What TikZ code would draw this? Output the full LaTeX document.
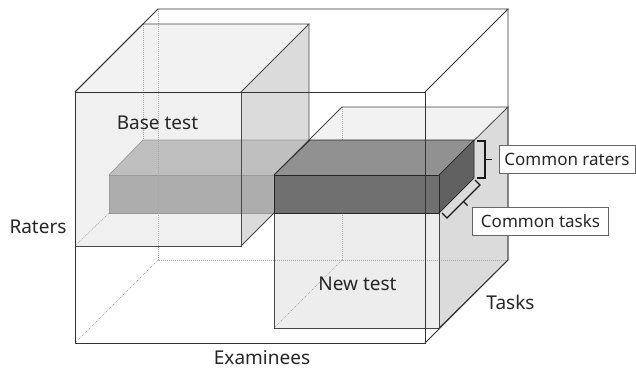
\documentclass[tikz,border=0pt]{standalone}
\usepackage{fontspec}
\setmainfont{Noto Sans}
\usetikzlibrary{calc}
\begin{document}
\begin{tikzpicture}[x=1pt,y=1pt,
  edge/.style={draw=black!72,line width=0.8pt},
  bigedge/.style={draw=black!80,line width=0.8pt},
  dots/.style={draw=black!35,dash pattern=on 1pt off 1pt,line width=0.6pt},
  slabedge/.style={draw=black!40,line width=0.7pt},
  darkedge/.style={draw=black!85,line width=0.7pt,line join=round},
  bracket/.style={draw=black!90,line width=1.1pt},
  lbl/.style={font=\fontsize{19}{22}\selectfont,text=black!85,anchor=base,inner sep=0pt},
  boxlbl/.style={draw=black!60,fill=white,line width=0.7pt,font=\fontsize{17}{20}\selectfont,text=black!85,inner sep=0pt,minimum width=136pt,minimum height=28pt},
]
\useasboundingbox (0,0) rectangle (636,370);
\fill[white] (0,0) rectangle (636,370);
% ---------- coordinates
% big box
\coordinate (A1) at (75,27);   \coordinate (A2) at (425,27);
\coordinate (A3) at (425,278); \coordinate (A4) at (75,278);
\coordinate (B1) at (158,110); \coordinate (B2) at (508,110);
\coordinate (B3) at (508,361); \coordinate (B4) at (158,361);
% base test box
\coordinate (P1) at (75,124);  \coordinate (P2) at (241,124);
\coordinate (P3) at (241,278); \coordinate (P4) at (75,278);
\coordinate (Q1) at (143,192); \coordinate (Q2) at (309,192);
\coordinate (Q3) at (309,346); \coordinate (Q4) at (143,346);
% new test box
\coordinate (N1) at (274,42);  \coordinate (N2) at (439,42);
\coordinate (N3) at (439,195); \coordinate (N4) at (274,195);
\coordinate (M1) at (342,110); \coordinate (M2) at (508,110);
\coordinate (M3) at (508,263); \coordinate (M4) at (342,263);
% slab
\coordinate (S1) at (109,157); \coordinate (S2) at (274,157);
\coordinate (S3) at (274,195); \coordinate (S4) at (109,195);
\coordinate (T3) at (310,230); \coordinate (T4) at (143,230);
% dark box
\coordinate (D1) at (274,157); \coordinate (D2) at (439,157);
\coordinate (D3) at (439,195); \coordinate (D4) at (274,195);
\coordinate (E2) at (474,192); \coordinate (E3) at (474,230); \coordinate (E4) at (310,230);
% ---------- face fills
\fill[black!6] (P1) -- (P2) -- (P3) -- (P4) -- cycle;
\fill[black!5] (P4) -- (Q4) -- (Q3) -- (P3) -- cycle;
\fill[black!14] (P2) -- (P3) -- (Q3) -- (Q2) -- cycle;
\fill[black!7] (N1) -- (N2) -- (N3) -- (N4) -- cycle;
\fill[black!5] (N4) -- (M4) -- (M3) -- (N3) -- cycle;
\fill[black!14] (N2) -- (N3) -- (M3) -- (M2) -- cycle;
% ---------- hidden lines
\draw[dots] (M4) -- (M1) -- (M2);
\draw[dots] (N1) -- (M1);
% ---------- light slab
\fill[black!25] (S4) -- (T4) -- (T3) -- (S3) -- cycle;
\fill[black!32] (S1) -- (S2) -- (S3) -- (S4) -- cycle;
\draw[slabedge] (S2) -- (S1) -- (S4) -- (S3);
\draw[slabedge] (S4) -- (T4) -- (T3);
% hidden lines over slab
\draw[dots] (B4) -- (B1) -- (B2);
\draw[dots] (A1) -- (B1);
\draw[dots] (Q4) -- (T4);
\draw[dots] (P1) -- (S1);
% ---------- base test edges
\draw[edge] (P1) -- (P2) -- (P3) -- (P4) -- cycle;
\draw[edge] (P4) -- (Q4) -- (Q3) -- (P3);
\draw[edge] (Q3) -- (Q2) -- (P2);
% ---------- new test edges
\draw[edge] (N1) -- (N2) -- (N3) -- (N4) -- cycle;
\draw[edge] (N4) -- (M4) -- (M3) -- (N3);
\draw[edge] (M3) -- (M2) -- (N2);
% ---------- dark box
\fill[black!43] (D4) -- (E4) -- (E3) -- (D3) -- cycle;
\fill[black!56] (D1) -- (D2) -- (D3) -- (D4) -- cycle;
\fill[black!62] (D2) -- (E2) -- (E3) -- (D3) -- cycle;
\draw[darkedge] (D1) -- (D2) -- (D3) -- (D4) -- cycle;
\draw[darkedge] (D4) -- (E4) -- (E3) -- (D3);
\draw[darkedge] (E3) -- (E2) -- (D2);
% ---------- big box edges
\draw[bigedge] (A1) -- (A2) -- (A3) -- (A4) -- cycle;
\draw[bigedge] (A4) -- (B4) -- (B3) -- (A3);
\draw[bigedge] (B3) -- (B2) -- (A2);
% ---------- labels
\node[lbl] (base) at (157.5,240.5) {Base test};
\node[lbl] (new) at (357.5,80) {New test};
\node[lbl] (raters) at (38,137) {Raters};
\node[lbl] (exam) at (262,6) {Examinees};
\node[lbl] (tasks) at (510.5,61) {Tasks};
\node[boxlbl] (cr) at (567,211) {Common raters};
\node[boxlbl] (ct) at (540.5,149) {Common tasks};
% ---------- brackets
\coordinate (r1) at (477,229); \coordinate (r2) at (485,229);
\coordinate (r3) at (485,192); \coordinate (r4) at (477,192);
\draw[bracket] (r1) -- (r2) -- (r3) -- (r4);
\draw[bracket] (485,210.5) -- (492,210.5);
\coordinate (t1) at (475,190); \coordinate (t2) at (480,185);
\coordinate (t3) at (447,152); \coordinate (t4) at (442,157);
\draw[bracket] (t1) -- (t2) -- (t3) -- (t4);
\draw[bracket] ($(t2)!0.5!(t3)$) -- ++(4,-4);
\end{tikzpicture}
\end{document}
